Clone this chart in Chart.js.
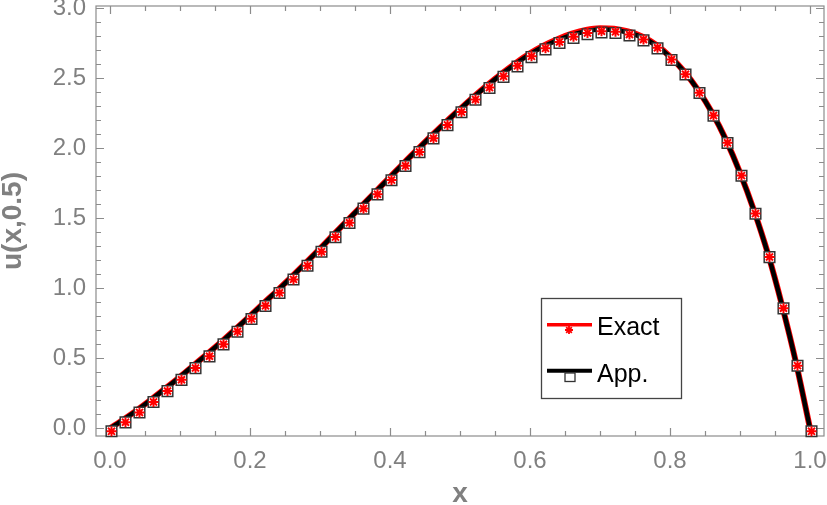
<!DOCTYPE html>
<html lang="en">

<head>
    <meta charset="UTF-8">
    <title>u(x,0.5)</title>
    <style>
        body {
            margin: 0;
            background: #fff;
        }
    </style>
    <script src="https://cdn.jsdelivr.net/npm/chart.js"></script>
</head>

<body>
    <canvas id="uChart" width="827" height="505"></canvas>

    <script>
        const xs = [0.00, 0.02, 0.04, 0.06, 0.08, 0.10, 0.12, 0.14, 0.16, 0.18,
            0.20, 0.22, 0.24, 0.26, 0.28, 0.30, 0.32, 0.34, 0.36, 0.38,
            0.40, 0.42, 0.44, 0.46, 0.48, 0.50, 0.52, 0.54, 0.56, 0.58,
            0.60, 0.62, 0.64, 0.66, 0.68, 0.70, 0.72, 0.74, 0.76, 0.78,
            0.80, 0.82, 0.84, 0.86, 0.88, 0.90, 0.92, 0.94, 0.96, 0.98, 1.00];

        const exact = [0, 0.065, 0.135, 0.210, 0.288, 0.368, 0.452, 0.536, 0.622, 0.712,
            0.803, 0.896, 0.989, 1.085, 1.183, 1.283, 1.387, 1.489, 1.591, 1.693,
            1.794, 1.896, 1.995, 2.093, 2.188, 2.280, 2.370, 2.455, 2.535, 2.610,
            2.678, 2.735, 2.781, 2.818, 2.845, 2.857, 2.853, 2.834, 2.798, 2.739,
            2.655, 2.550, 2.417, 2.255, 2.060, 1.826, 1.555, 1.245, 0.879, 0.469, 0];

        const approx = [0, 0.064, 0.134, 0.209, 0.287, 0.367, 0.451, 0.535, 0.621, 0.711,
            0.802, 0.895, 0.988, 1.084, 1.182, 1.282, 1.386, 1.488, 1.590, 1.692,
            1.793, 1.895, 1.994, 2.092, 2.187, 2.279, 2.368, 2.452, 2.531, 2.605,
            2.672, 2.728, 2.773, 2.809, 2.836, 2.848, 2.845, 2.827, 2.792, 2.735,
            2.652, 2.548, 2.416, 2.254, 2.059, 1.825, 1.554, 1.244, 0.878, 0.468, 0];

        const xTicks = [0, 0.2, 0.4, 0.6, 0.8, 1.0];
        const yTicks = [0, 0.5, 1.0, 1.5, 2.0, 2.5, 3.0];

        const gray = '#808080';
        const tickFont = { family: 'Liberation Sans, Arial, sans-serif', size: 24 };

        const pts = vals => xs.map((x, i) => ({ x: x, y: vals[i] }));

        // keep the plot frame exactly where it is in the original
        function noPad(s) {
            s.paddingTop = 0; s.paddingBottom = 0;
            s.paddingLeft = 0; s.paddingRight = 0;
        }

        // frame with inward ticks on all four sides
        const frameTicks = {
            id: 'frameTicks',
            beforeDatasetsDraw(chart) {
                const { ctx, chartArea: a, scales: { x, y } } = chart;
                ctx.save();
                ctx.strokeStyle = '#8c8c8c';
                ctx.lineWidth = 1.2;
                ctx.strokeRect(a.left, a.top, a.right - a.left, a.bottom - a.top);
                ctx.beginPath();
                for (let i = 0; i <= 20; i++) {
                    const v = i * 0.05;
                    const px = Math.round(x.getPixelForValue(v)) + 0.5;
                    const len = i % 4 === 0 ? 8 : 5;
                    ctx.moveTo(px, a.bottom); ctx.lineTo(px, a.bottom - len);
                    ctx.moveTo(px, a.top); ctx.lineTo(px, a.top + len);
                }
                for (let i = 0; i <= 30; i++) {
                    const v = i * 0.1;
                    const py = Math.round(y.getPixelForValue(v)) + 0.5;
                    const len = i % 5 === 0 ? 8 : 5;
                    ctx.moveTo(a.left, py); ctx.lineTo(a.left + len, py);
                    ctx.moveTo(a.right, py); ctx.lineTo(a.right - len, py);
                }
                ctx.stroke();
                ctx.restore();
            }
        };

        // markers sit a little below/right of the curves, as in the original
        const markerShift = {
            id: 'markerShift',
            beforeDatasetDraw(chart, args) {
                if (chart.data.datasets[args.index].shifted) {
                    chart.ctx.save();
                    chart.ctx.translate(1.5, 3);
                }
            },
            afterDatasetDraw(chart, args) {
                if (chart.data.datasets[args.index].shifted) chart.ctx.restore();
            }
        };

        function drawStar(ctx, cx, cy, r) {
            ctx.beginPath();
            for (let k = 0; k < 4; k++) {
                const ang = k * Math.PI / 4;
                ctx.moveTo(cx - r * Math.cos(ang), cy - r * Math.sin(ang));
                ctx.lineTo(cx + r * Math.cos(ang), cy + r * Math.sin(ang));
            }
            ctx.stroke();
        }

        const boxLegend = {
            id: 'boxLegend',
            afterDraw(chart) {
                const ctx = chart.ctx;
                ctx.save();
                ctx.fillStyle = '#fff';
                ctx.fillRect(541, 298, 140, 100);
                ctx.strokeStyle = '#444';
                ctx.lineWidth = 1.3;
                ctx.strokeRect(541.5, 298.5, 140, 100);

                ctx.strokeStyle = 'red';
                ctx.lineWidth = 3.5;
                ctx.beginPath(); ctx.moveTo(547, 324.7); ctx.lineTo(592, 324.7); ctx.stroke();
                ctx.lineWidth = 1.8;
                drawStar(ctx, 569, 330, 4);

                ctx.strokeStyle = '#000';
                ctx.lineWidth = 4;
                ctx.beginPath(); ctx.moveTo(547, 370.8); ctx.lineTo(592, 370.8); ctx.stroke();
                ctx.fillStyle = '#fff';
                ctx.fillRect(565, 373, 10, 8.5);
                ctx.strokeStyle = '#333';
                ctx.lineWidth = 1.3;
                ctx.strokeRect(565, 373, 10, 8.5);

                ctx.fillStyle = '#000';
                ctx.font = '25px "Liberation Sans", Arial, sans-serif';
                ctx.textBaseline = 'alphabetic';
                ctx.textAlign = 'left';
                ctx.fillText('Exact', 597, 335);
                ctx.fillText('App.', 597, 381.7);
                ctx.restore();
            }
        };

        new Chart(document.getElementById('uChart'), {
            type: 'line',
            data: {
                datasets: [
                    {
                        label: 'Exact',
                        data: pts(exact),
                        borderColor: 'red',
                        borderWidth: 6,
                        pointRadius: 0,
                        cubicInterpolationMode: 'monotone',
                        order: 4
                    },
                    {
                        label: 'App.',
                        data: pts(approx),
                        borderColor: '#000',
                        borderWidth: 4.5,
                        pointRadius: 0,
                        cubicInterpolationMode: 'monotone',
                        order: 3
                    },
                    {
                        label: 'App. markers',
                        data: pts(approx),
                        showLine: false,
                        shifted: true,
                        pointStyle: 'rect',
                        pointRadius: 7.5,
                        pointBackgroundColor: '#fff',
                        pointBorderColor: '#333',
                        pointBorderWidth: 1.5,
                        order: 2
                    },
                    {
                        label: 'Exact markers',
                        data: pts(exact),
                        showLine: false,
                        shifted: true,
                        pointStyle: 'star',
                        pointRadius: 5,
                        pointBorderColor: 'red',
                        pointBorderWidth: 2,
                        order: 1
                    }
                ]
            },
            options: {
                responsive: false,
                animation: false,
                layout: {
                    autoPadding: false,
                    padding: { left: 0, right: 3, top: 6, bottom: 0 }
                },
                plugins: {
                    legend: { display: false },
                    tooltip: { enabled: false }
                },
                scales: {
                    x: {
                        type: 'linear',
                        min: -0.02,
                        max: 1.02,
                        afterBuildTicks: s => { s.ticks = xTicks.map(v => ({ value: v })); },
                        afterFit: s => { s.height = 69; noPad(s); },
                        grid: { display: false, drawTicks: false },
                        border: { display: false },
                        ticks: {
                            color: gray,
                            font: tickFont,
                            padding: 11,
                            maxRotation: 0,
                            callback: v => Number(v).toFixed(1)
                        },
                        title: {
                            display: true,
                            text: 'x',
                            color: gray,
                            font: { family: 'Liberation Sans, Arial, sans-serif', size: 28, weight: 'bold', lineHeight: 0.75 },
                            padding: 0
                        }
                    },
                    y: {
                        min: -0.055,
                        max: 3.016,
                        afterBuildTicks: s => { s.ticks = yTicks.map(v => ({ value: v })); },
                        afterFit: s => { s.width = 96; noPad(s); },
                        grid: { display: false, drawTicks: false },
                        border: { display: false },
                        ticks: {
                            color: gray,
                            font: tickFont,
                            padding: 10,
                            callback: v => Number(v).toFixed(1)
                        },
                        title: {
                            display: true,
                            text: 'u(x,0.5)',
                            color: gray,
                            font: { family: 'Liberation Sans, Arial, sans-serif', size: 28, weight: 'bold', lineHeight: 0.93 },
                            padding: 0
                        }
                    }
                }
            },
            plugins: [frameTicks, markerShift, boxLegend]
        });
    </script>
</body>

</html>
